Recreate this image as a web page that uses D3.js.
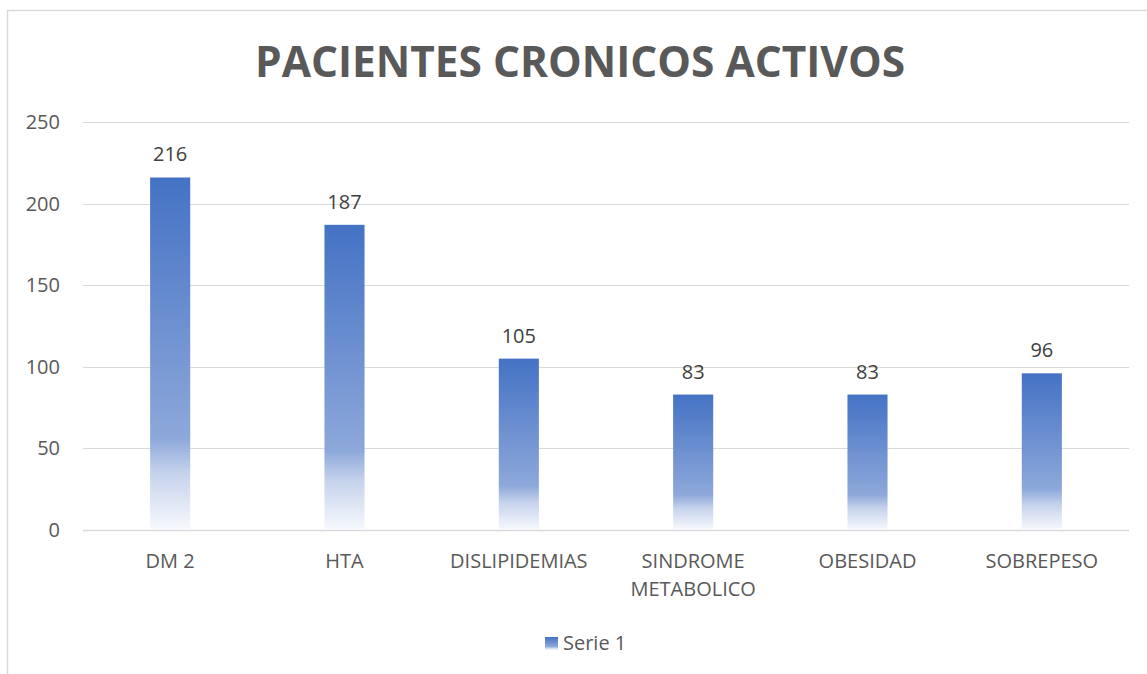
<!DOCTYPE html>
<html>
<head>
<meta charset="utf-8">
<script src="https://cdn.jsdelivr.net/npm/d3@7"></script>
<style>
  body { margin: 0; background: #fff; }
  svg { display: block; }
  .tick-label, .cat-label, .val-label, .legend text {
    font-family: "Open Sans", "DejaVu Sans", sans-serif;
  }
</style>
</head>
<body>
<script>
// chart data
const categories = ['DM 2', 'HTA', 'DISLIPIDEMIAS', 'SINDROME METABOLICO', 'OBESIDAD', 'SOBREPESO']
const categoryLines = [['DM 2'], ['HTA'], ['DISLIPIDEMIAS'], ['SINDROME', 'METABOLICO'], ['OBESIDAD'], ['SOBREPESO']]
const values = [216, 187, 105, 83, 83, 96]
const yTicks = [0, 50, 100, 150, 200, 250]
const seriesName = 'Serie 1'
const title = 'PACIENTES CRONICOS ACTIVOS'

const width = 1147
const height = 674

const svg = d3.select('body').append('svg')
  .attr('width', width)
  .attr('height', height)

// bar gradient, per bar bounding box
const defs = svg.append('defs')
const grad = defs.append('linearGradient')
  .attr('id', 'barGrad')
  .attr('x1', 0).attr('y1', 0).attr('x2', 0).attr('y2', 1)
const stops = [
  [0, '#4472C4'],
  [0.74, '#8DA8DA'],
  [0.84, '#C6D3EC'],
  [1, '#F7F9FD'],
]
stops.forEach(function (s) {
  grad.append('stop').attr('offset', s[0]).attr('stop-color', s[1])
})

// chart border
svg.append('rect')
  .attr('x', 7.5).attr('y', 10.5)
  .attr('width', 1200).attr('height', 700)
  .attr('fill', 'none')
  .attr('stroke', '#d9d9d9')
  .attr('stroke-width', 1.5)

// title
svg.append('text')
  .attr('x', 580)
  .attr('y', 77)
  .attr('text-anchor', 'middle')
  .attr('font-family', '"Open Sans", sans-serif')
  .attr('font-weight', 'bold')
  .attr('font-size', 43)
  .attr('fill', '#595959')
  .attr('textLength', 650)
  .attr('lengthAdjust', 'spacingAndGlyphs')
  .text(title)

const x = d3.scaleBand()
  .domain(categories)
  .range([83, 1129])
  .paddingInner(0.77)
  .paddingOuter(0.385)

const y = d3.scaleLinear()
  .domain([0, 250])
  .range([530, 122])

// gridlines
svg.append('g')
  .selectAll('line')
  .data(yTicks)
  .enter().append('line')
    .attr('x1', 83)
    .attr('x2', 1129)
    .attr('y1', function (d) { return Math.round(y(d)) + 0.5 })
    .attr('y2', function (d) { return Math.round(y(d)) + 0.5 })
    .attr('stroke', '#d9d9d9')
    .attr('stroke-width', function (d) { return d === 0 ? 1.5 : 1 })

// y tick labels
svg.append('g')
  .selectAll('text')
  .data(yTicks)
  .enter().append('text')
    .attr('class', 'tick-label')
    .attr('x', 60)
    .attr('y', function (d) { return y(d) + 7 })
    .attr('text-anchor', 'end')
    .attr('font-size', 20)
    .attr('fill', '#595959')
    .text(function (d) { return d })

// bars
svg.append('g')
  .selectAll('rect')
  .data(values)
  .enter().append('rect')
    .attr('x', function (d, i) { return x(categories[i]) })
    .attr('y', function (d) { return y(d) })
    .attr('width', x.bandwidth())
    .attr('height', function (d) { return y(0) - y(d) })
    .attr('fill', 'url(#barGrad)')

// value labels
svg.append('g')
  .selectAll('text')
  .data(values)
  .enter().append('text')
    .attr('class', 'val-label')
    .attr('x', function (d, i) { return x(categories[i]) + x.bandwidth() / 2 })
    .attr('y', function (d) { return y(d) - 16 })
    .attr('text-anchor', 'middle')
    .attr('font-size', 20)
    .attr('fill', '#404040')
    .text(function (d) { return d })

// category labels
const cat = svg.append('g')
  .selectAll('text')
  .data(categoryLines)
  .enter().append('text')
    .attr('class', 'cat-label')
    .attr('text-anchor', 'middle')
    .attr('font-size', 20)
    .attr('fill', '#595959')

cat.each(function (lines, i) {
  const cx = x(categories[i]) + x.bandwidth() / 2
  d3.select(this).selectAll('tspan')
    .data(lines)
    .enter().append('tspan')
      .attr('x', cx)
      .attr('y', function (d, j) { return 568 + j * 28 })
      .text(function (d) { return d })
})

// legend
const legend = svg.append('g').attr('class', 'legend')
legend.append('rect')
  .attr('x', 545).attr('y', 637)
  .attr('width', 13).attr('height', 13)
  .attr('fill', 'url(#barGrad)')
legend.append('text')
  .attr('x', 563)
  .attr('y', 650)
  .attr('font-size', 20)
  .attr('fill', '#595959')
  .text(seriesName)
</script>
</body>
</html>
